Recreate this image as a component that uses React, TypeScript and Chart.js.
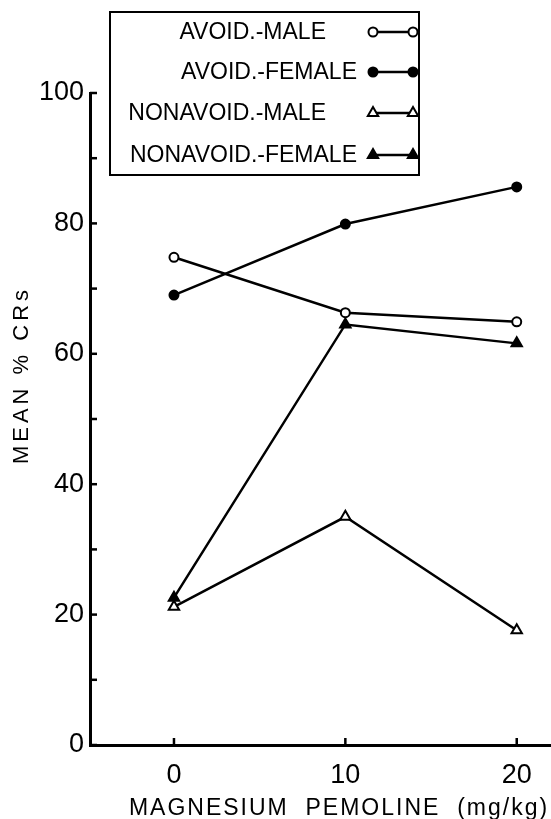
import { useEffect, useRef } from 'react';
import { Chart, registerables } from 'chart.js';

Chart.register(...registerables);

// ---- data ----
const doses = [0, 10, 20];
const avoidMale = [74.8, 66.3, 64.9];
const avoidFemale = [69.0, 79.9, 85.6];
const nonavoidMale = [21.2, 35.0, 17.6];
const nonavoidFemale = [22.6, 64.5, 61.6];
const seriesLabels = ['AVOID.-MALE', 'AVOID.-FEMALE', 'NONAVOID.-MALE', 'NONAVOID.-FEMALE'];
const xTickValues = [0, 10, 20];
const yLabelStep = 20;
const yTitle = 'MEAN % CRs';
const xTitle = 'MAGNESIUM  PEMOLINE  (mg/kg)';

const FONT = '"Liberation Sans", Arial, sans-serif';

function drawMarker(ctx: CanvasRenderingContext2D, style: string, filled: boolean, x: number, y: number) {
  ctx.beginPath();
  if (style === 'triangle') {
    const r = 6;
    ctx.moveTo(x, y - r);
    ctx.lineTo(x + r * 0.866, y + r * 0.5);
    ctx.lineTo(x - r * 0.866, y + r * 0.5);
    ctx.closePath();
  } else {
    ctx.arc(x, y, 4.5, 0, Math.PI * 2);
  }
  ctx.fillStyle = filled ? '#000' : '#fff';
  ctx.fill();
  ctx.lineWidth = 2;
  ctx.strokeStyle = '#000';
  ctx.stroke();
}

const decorPlugin = {
  id: 'decor',
  afterDraw(chart: any) {
    const { ctx, chartArea } = chart;
    const x = chart.scales.x;
    const y = chart.scales.y;
    ctx.save();
    ctx.strokeStyle = '#000';
    ctx.lineWidth = 2.5;
    // inward tick marks
    y.ticks.forEach((t: any) => {
      const py = y.getPixelForValue(t.value);
      ctx.beginPath();
      ctx.moveTo(chartArea.left, py);
      ctx.lineTo(chartArea.left + 7, py);
      ctx.stroke();
    });
    x.ticks.forEach((t: any) => {
      const px = x.getPixelForValue(t.value);
      ctx.beginPath();
      ctx.moveTo(px, chartArea.bottom);
      ctx.lineTo(px, chartArea.bottom - 7);
      ctx.stroke();
    });

    // legend box
    ctx.lineWidth = 2;
    ctx.fillStyle = '#fff';
    ctx.fillRect(110, 12, 309, 163);
    ctx.strokeRect(110, 12, 309, 163);
    const rowsY = [32, 72, 113, 155];
    const textRight = [326, 357, 326, 357];
    ctx.font = `23px ${FONT}`;
    ctx.textBaseline = 'middle';
    ctx.textAlign = 'right';
    chart.data.datasets.forEach((ds: any, i: number) => {
      const ry = rowsY[i];
      ctx.fillStyle = '#000';
      ctx.fillText(ds.label, textRight[i], ry + 1);
      ctx.beginPath();
      ctx.lineWidth = 2.5;
      ctx.moveTo(373, ry);
      ctx.lineTo(413, ry);
      ctx.stroke();
      const filled = ds.pointBackgroundColor === '#000';
      drawMarker(ctx, ds.pointStyle, filled, 373, ry);
      drawMarker(ctx, ds.pointStyle, filled, 413, ry);
    });

    // axis titles
    ctx.fillStyle = '#000';
    ctx.textAlign = 'center';
    ctx.textBaseline = 'middle';
    (ctx as any).letterSpacing = '2px';
    ctx.font = `23px ${FONT}`;
    ctx.fillText(xTitle, 339, 809);
    ctx.save();
    ctx.translate(22, 375);
    ctx.rotate(-Math.PI / 2);
    (ctx as any).letterSpacing = '4px';
    ctx.font = `22px ${FONT}`;
    ctx.fillText(yTitle, 0, 0);
    ctx.restore();
    ctx.restore();
  },
};

function makeSet(label: string, values: number[], style: string, filled: boolean) {
  return {
    label,
    data: doses.map((d, i) => ({ x: d, y: values[i] })),
    borderColor: '#000',
    borderWidth: 2.5,
    backgroundColor: filled ? '#000' : '#fff',
    pointStyle: style,
    pointRadius: style === 'triangle' ? 6 : 4.5,
    pointBorderWidth: 2,
    pointBackgroundColor: filled ? '#000' : '#fff',
    pointBorderColor: '#000',
    tension: 0,
    fill: false,
  };
}

export default function App() {
  const ref = useRef<HTMLCanvasElement>(null);
  useEffect(() => {
    if (!ref.current) return;
    const chart = new Chart(ref.current, {
      type: 'line',
      data: {
        datasets: [
          makeSet(seriesLabels[0], avoidMale, 'circle', false),
          makeSet(seriesLabels[1], avoidFemale, 'circle', true),
          makeSet(seriesLabels[2], nonavoidMale, 'triangle', false),
          makeSet(seriesLabels[3], nonavoidFemale, 'triangle', true),
        ],
      },
      options: {
        responsive: false,
        animation: false,
        devicePixelRatio: 1,
        layout: { autoPadding: false, padding: { top: 93, left: 0, right: 0, bottom: 0 } },
        plugins: { legend: { display: false }, tooltip: { enabled: false } },
        scales: {
          x: {
            type: 'linear',
            min: -4.9,
            max: 22,
            afterBuildTicks: (s: any) => {
              s.ticks = xTickValues.map((v) => ({ value: v }));
            },
            afterFit: (s: any) => {
              s.height = 74;
              s.paddingLeft = 0;
              s.paddingRight = 0;
            },
            grid: { display: false, drawTicks: false },
            border: { display: true, color: '#000', width: 3 },
            ticks: {
              color: '#000',
              font: { family: FONT, size: 27 },
              padding: 14,
              maxRotation: 0,
            },
          },
          y: {
            type: 'linear',
            min: 0,
            max: 100,
            afterFit: (s: any) => {
              s.width = 90;
            },
            grid: { display: false, drawTicks: false },
            border: { display: true, color: '#000', width: 3 },
            ticks: {
              stepSize: 10,
              color: '#000',
              font: { family: FONT, size: 27 },
              padding: 6,
              callback: (v: any) => (Number(v) % yLabelStep === 0 ? String(v) : ''),
            },
          },
        },
      },
      plugins: [decorPlugin],
    });
    return () => chart.destroy();
  }, []);
  return (
    <div style={{ position: 'absolute', left: 0, top: 0, width: 551, height: 819, background: '#fff' }}>
      <canvas ref={ref} width={551} height={819} style={{ display: 'block' }} />
    </div>
  );
}
